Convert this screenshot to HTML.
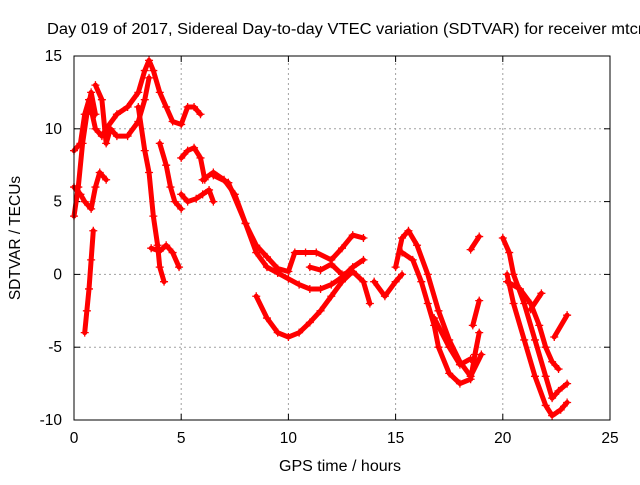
<!DOCTYPE html>
<html><head><meta charset="utf-8"><style>
body{margin:0;background:#fff;width:640px;height:480px;overflow:hidden}
text{font-family:"Liberation Sans",sans-serif;font-size:15.5px;fill:#000}
</style></head><body>
<svg id="chart" width="640" height="480" xmlns="http://www.w3.org/2000/svg">
<text x="47" y="34" textLength="600" lengthAdjust="spacingAndGlyphs">Day 019 of 2017, Sidereal Day-to-day VTEC variation (SDTVAR) for receiver mtcn</text>
<g id="grid"></g>
<g id="ticks"></g>
<g id="marks"></g>
<rect x="74" y="56" width="536" height="364" fill="none" stroke="#000" stroke-width="1"/>
<text x="340" y="471" text-anchor="middle" textLength="122" lengthAdjust="spacingAndGlyphs">GPS time / hours</text>
<text transform="translate(20,238) rotate(-90)" text-anchor="middle">SDTVAR / TECUs</text>
</svg>
<script>
const xTicks=[0,5,10,15,20,25];
const yTicks=[-10,-5,0,5,10,15];
const track01=[[0,8.5],[0.3,9],[0.5,11],[0.7,12],[1,10],[1.3,9.5],[1.5,10],[2,11],[2.5,11.5],[3,12.5],[3.3,14],[3.5,14.7],[3.7,14],[4,12.5],[4.3,11.5],[4.6,10.5],[5,10.3],[5.3,11.5],[5.6,11.5],[5.9,11]];
const track02=[[1,13],[1.3,12],[1.5,9],[1.7,10],[2,9.5],[2.5,9.5],[3,10.5],[3.3,12],[3.5,13.5]];
const track03=[[3,11.5],[3.3,8.5],[3.5,7],[3.7,4],[3.9,2],[4,0.5],[4.2,-0.5]];
const track04=[[4,9],[4.3,7.5],[4.5,6],[4.7,5],[5,4.5]];
const track05=[[5,8],[5.3,8.5],[5.6,8.7],[5.9,8],[6.1,6.5]];
const track06=[[5,5.5],[5.3,5],[5.7,5.2],[6,5.5],[6.3,5.8],[6.5,5]];
const track07=[[3.6,1.8],[4,1.6],[4.3,2],[4.6,1.5],[4.9,0.5]];
const track08=[[0.9,3],[0.8,1],[0.7,-1],[0.6,-2.5],[0.5,-4]];
const track09=[[0,6],[0.3,5.5],[0.5,5],[0.8,4.5],[1,6],[1.2,7],[1.5,6.5]];
const track10=[[0,4],[0.2,6],[0.4,9],[0.6,11],[0.8,12.5],[1,11]];
const track11=[[6,6.5],[6.5,7],[7,6.5],[7.5,5.5],[8,3.5],[8.5,1.5],[9,0.5],[9.5,0.1],[10,-0.3],[10.5,-0.7],[11,-1],[11.5,-1],[12,-0.7],[12.5,-0.2],[13,0.5],[13.5,1]];
const track12=[[6.5,6.8],[7.2,6.3],[8,3.5],[8.5,2],[9,1.2],[9.5,0.4],[10,0.2],[10.3,1.5],[10.8,1.5],[11.3,1.5],[12,1],[12.5,1.8],[13,2.7],[13.5,2.5]];
const track13=[[8.5,-1.5],[9,-3],[9.5,-4],[10,-4.3],[10.5,-4],[11,-3.3],[11.5,-2.5],[12,-1.5],[12.5,-0.5],[13,0.2]];
const track14=[[11,0.5],[11.5,0.3],[12,0.7],[12.5,0],[13,0.2],[13.5,-0.5],[13.8,-2]];
const track15=[[14,-0.5],[14.5,-1.5],[15,-0.5],[15.3,0]];
const track16=[[15,0.5],[15.3,2.5],[15.6,3],[16,2],[16.5,0],[17,-2.5],[17.5,-4.5],[18,-6],[18.5,-7],[19,-5.5]];
const track17=[[15.3,1.5],[15.8,1],[16.2,-0.5],[16.5,-2],[16.8,-3.5],[17,-5],[17.5,-6.8],[18,-7.5],[18.5,-7.2],[18.7,-5.5],[18.9,-4]];
const track18=[[16.8,-3],[17.5,-5],[18,-6.2],[18.5,-5.8]];
const track19=[[18.5,1.7],[18.9,2.6]];
const track20=[[18.6,-3.5],[18.9,-1.8]];
const track21=[[20,2.5],[20.3,1.5],[20.5,0],[21,-2],[21.5,-4.5],[22,-7],[22.3,-8.5],[22.6,-8],[23,-7.5]];
const track22=[[20.2,0],[20.5,-2],[21,-4.5],[21.5,-7],[22,-9],[22.3,-9.7],[22.7,-9.3],[23,-8.8]];
const track23=[[20.2,-0.5],[20.8,-1],[21.3,-2],[21.7,-3.5],[22,-5],[22.3,-6],[22.6,-6.5]];
const track24=[[21.3,-2.4],[21.8,-1.3]];
const track25=[[22.4,-4.3],[23,-2.8]];
const tracks=[track01,track02,track03,track04,track05,track06,track07,track08,track09,track10,track11,track12,track13,track14,track15,track16,track17,track18,track19,track20,track21,track22,track23,track24,track25];

const X0=74,X1=610,Y0=420,Y1=56;
function sx(v){return X0+(v-0)/(25-0)*(X1-X0);}
function sy(v){return Y0-(v+10)/(15+10)*(Y0-Y1);}
const NS="http://www.w3.org/2000/svg";
const grid=document.getElementById('grid'),ticks=document.getElementById('ticks'),marks=document.getElementById('marks');
function mk(tag,attrs,parent){const e=document.createElementNS(NS,tag);for(const k in attrs)e.setAttribute(k,attrs[k]);parent.appendChild(e);return e;}
xTicks.forEach(t=>{
  const x=sx(t);
  if(t>0&&t<25){const g=mk('line',{x1:x,y1:Y0,x2:x,y2:Y1,stroke:'#a0a0a0','stroke-dasharray':'2,3'},grid);
  
  }
  mk('line',{x1:x,y1:Y0,x2:x,y2:Y0-6,stroke:'#000'},ticks);
  mk('line',{x1:x,y1:Y1,x2:x,y2:Y1+6,stroke:'#000'},ticks);
  const l=mk('text',{x:x,y:Y0+23,'text-anchor':'middle'},ticks);l.textContent=t;
  
  
});
yTicks.forEach(t=>{
  const y=sy(t);
  if(t>-10&&t<15){const g=mk('line',{x1:X0,y1:y,x2:X1,y2:y,stroke:'#a0a0a0','stroke-dasharray':'2,3'},grid);
  
  }
  mk('line',{x1:X0,y1:y,x2:X0+6,y2:y,stroke:'#000'},ticks);
  mk('line',{x1:X1,y1:y,x2:X1-6,y2:y,stroke:'#000'},ticks);
  const l=mk('text',{x:X0-12,y:y+5,'text-anchor':'end'},ticks);l.textContent=t;
  
  
});
tracks.forEach((tr,i)=>{
  const pts=tr.map(p=>sx(p[0])+','+sy(p[1])).join(' ');
  const pl=mk('polyline',{points:pts,fill:'none',stroke:'#ff0000','stroke-width':5,'stroke-linejoin':'round','stroke-linecap':'round'},marks);
  
  
  tr.forEach(p=>{
    const x=sx(p[0]),y=sy(p[1]);
    const m=mk('path',{d:`M${x-4},${y}H${x+4}M${x},${y-4}V${y+4}`,stroke:'#ff0000','stroke-width':1.3},marks);
    
    
  });
});
</script>
</body></html>
